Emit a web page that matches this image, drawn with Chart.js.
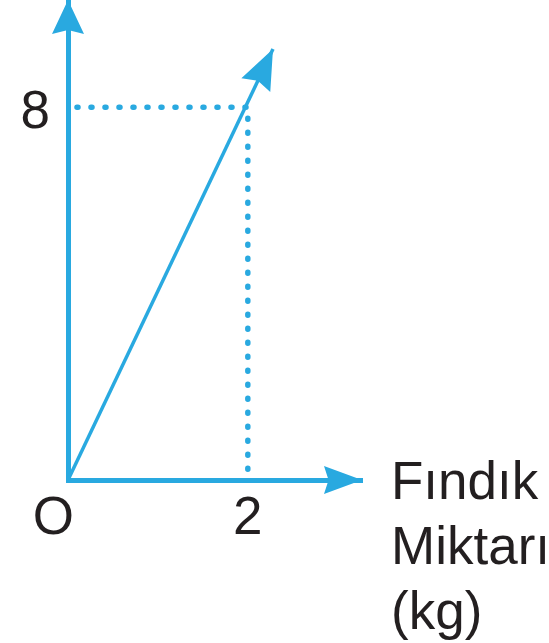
<!DOCTYPE html>
<html>
<head>
<meta charset="utf-8">
<script src="https://cdn.jsdelivr.net/npm/chart.js@4"></script>
<style>
  html, body { margin: 0; padding: 0; background: #fff; }
  #wrap { width: 549px; height: 643px; }
</style>
</head>
<body>
<div id="wrap"><canvas id="graph"></canvas></div>
<script>
// eksen değerleri
const xTicks = [0, 2];
const xTickLabels = ["O  ", "2"];
const yTicks = [8];
const yTickLabels = ["8"];
const axisTitle = ["Fındık", "Miktarı", "(kg)"];

// doğru: orijinden (2, 8) üzerinden ok ucuna
const lineX = [0, 2.28];
const lineY = [0, 9.25];

// kesikli yardımcı çizgiler
const guideX = [0.1, 2, 2];
const guideY = [8, 8, 0.1];

const blue = "#29a9e0";
const ink = "#231f20";
const font = { family: "'Liberation Sans', Arial, sans-serif", size: 53 };

function arrowHead(ctx, x1, y1, x2, y2, len, half) {
  const a = Math.atan2(y2 - y1, x2 - x1);
  ctx.save();
  ctx.translate(x2, y2);
  ctx.rotate(a);
  ctx.beginPath();
  ctx.moveTo(0, 0);
  ctx.lineTo(-len, -half);
  ctx.lineTo(-len * 0.88, 0);
  ctx.lineTo(-len, half);
  ctx.closePath();
  ctx.fillStyle = blue;
  ctx.fill();
  ctx.restore();
}

const arrows = {
  id: "arrows",
  afterDraw(chart) {
    const { ctx, chartArea: a, scales } = chart;
    // eksen okları
    arrowHead(ctx, a.left, a.top + 40, a.left, a.top, 34, 16);
    arrowHead(ctx, a.right - 40, a.bottom, a.right, a.bottom, 38, 14);
    // doğrunun ok ucu
    const n = lineX.length - 1;
    const x1 = scales.x.getPixelForValue(lineX[n - 1]);
    const y1 = scales.y.getPixelForValue(lineY[n - 1]);
    const x2 = scales.x.getPixelForValue(lineX[n]);
    const y2 = scales.y.getPixelForValue(lineY[n]);
    arrowHead(ctx, x1, y1, x2, y2, 40, 16);
    // eksen başlığı
    ctx.save();
    ctx.fillStyle = ink;
    ctx.font = font.size + "px " + font.family;
    ctx.textBaseline = "alphabetic";
    axisTitle.forEach((t, i) => {
      ctx.fillText(t, a.right + 29, a.bottom + 19 + i * 65);
    });
    ctx.restore();
  },
};

const data = {
  datasets: [
    {
      data: lineX.map((x, i) => ({ x: x, y: lineY[i] })),
      borderColor: blue,
      borderWidth: 3.5,
      pointRadius: 0,
    },
    {
      data: guideX.map((x, i) => ({ x: x, y: guideY[i] })),
      borderColor: blue,
      borderWidth: 5.5,
      borderDash: [1, 13],
      borderCapStyle: "round",
      pointRadius: 0,
    },
  ],
};

const config = {
  type: "scatter",
  data: data,
  options: {
    responsive: true,
    maintainAspectRatio: false,
    animation: false,
    showLine: true,
    layout: { padding: { left: 0, top: 0, right: 187, bottom: 0 } },
    scales: {
      x: {
        type: "linear",
        min: 0,
        max: 3.27,
        grid: { display: false, drawTicks: false },
        border: { display: true, color: blue, width: 5 },
        afterBuildTicks: (s) => { s.ticks = xTicks.map((v) => ({ value: v })); },
        afterFit: (s) => { s.height = 163; s.paddingLeft = 0; s.paddingRight = 0; },
        ticks: {
          padding: 8,
          maxRotation: 0,
          color: ink,
          font: font,
          callback: (v) => xTickLabels[xTicks.indexOf(v)],
        },
      },
      y: {
        type: "linear",
        min: 0,
        max: 10.3,
        grid: { display: false, drawTicks: false },
        border: { display: true, color: blue, width: 5 },
        afterBuildTicks: (s) => { s.ticks = yTicks.map((v) => ({ value: v })); },
        afterFit: (s) => { s.width = 68; s.paddingTop = 0; s.paddingBottom = 0; },
        ticks: {
          padding: 18,
          labelOffset: 6,
          color: ink,
          font: font,
          callback: (v) => yTickLabels[yTicks.indexOf(v)],
        },
      },
    },
    plugins: {
      legend: { display: false },
      tooltip: { enabled: false },
    },
  },
  plugins: [arrows],
};

let myChart = new Chart(document.getElementById("graph"), config);
</script>
</body>
</html>
